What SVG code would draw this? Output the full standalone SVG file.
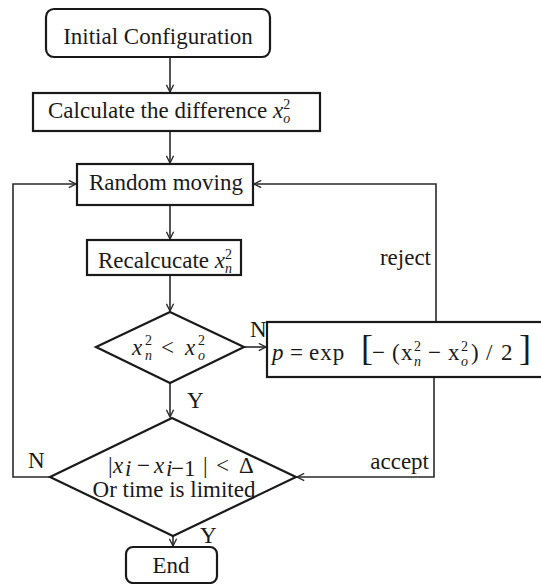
<svg xmlns="http://www.w3.org/2000/svg" width="541" height="584" viewBox="0 0 541 584">
<style>
text{font-family:"Liberation Serif","Times New Roman",serif;font-size:23px;fill:#1a1a1a}
.mi{font-style:italic}
.s{font-size:14px}
.node{fill:#fff;stroke:#1a1a1a;stroke-width:2.2}
.conn{fill:none;stroke:#2a2a2a;stroke-width:1.6}
</style>
<defs>
<marker id="arr" viewBox="0 0 10 10" refX="9" refY="5" markerWidth="9" markerHeight="9" markerUnits="userSpaceOnUse" orient="auto">
<path d="M1,1 L9,5 L1,9" fill="none" stroke="#2a2a2a" stroke-width="1.5"/>
</marker>
</defs>
<rect width="541" height="584" fill="#fff"/>
<g id="connectors">
<line class="conn" x1="170" y1="57" x2="170" y2="92" marker-end="url(#arr)"/>
<line class="conn" x1="170" y1="131" x2="170" y2="163" marker-end="url(#arr)"/>
<line class="conn" x1="170" y1="205" x2="170" y2="239" marker-end="url(#arr)"/>
<line class="conn" x1="170" y1="275" x2="170" y2="311" marker-end="url(#arr)"/>
<line class="conn" x1="244" y1="347" x2="266" y2="347" marker-end="url(#arr)"/>
<line class="conn" x1="170" y1="383" x2="170" y2="417" marker-end="url(#arr)"/>
<polyline class="conn" points="50,477 13,477 13,184 76,184" marker-end="url(#arr)"/>
<polyline class="conn" points="436,322 436,184 254,184" marker-end="url(#arr)"/>
<polyline class="conn" points="434,377 434,477 297,477" marker-end="url(#arr)"/>
<line class="conn" x1="173" y1="535" x2="173" y2="546" marker-end="url(#arr)"/>
<text x="250" y="337">N</text>
<text x="187" y="408">Y</text>
<text x="28" y="468">N</text>
<text x="200" y="543">Y</text>
<text x="431" y="265" text-anchor="end">reject</text>
<text x="429" y="469" text-anchor="end">accept</text>
</g>
<g id="initial">
<rect class="node" x="46" y="9" width="224" height="48" rx="8"/>
<text x="158" y="44" text-anchor="middle">Initial Configuration</text>
</g>
<g id="calculate">
<rect class="node" x="33" y="93" width="287" height="38"/>
<text x="48" y="118">Calculate the difference <tspan class="mi">x</tspan><tspan class="s" dy="-9">2</tspan><tspan class="s mi" dx="-7" dy="14">o</tspan></text>
</g>
<g id="random">
<rect class="node" x="77" y="164" width="176" height="41"/>
<text x="166" y="190" text-anchor="middle">Random moving</text>
</g>
<g id="recalc">
<rect class="node" x="87" y="240" width="154" height="35"/>
<text x="98" y="268">Recalcucate <tspan class="mi">x</tspan><tspan class="s" dy="-9">2</tspan><tspan class="s mi" dx="-7" dy="14">n</tspan></text>
</g>
<g id="decision1">
<polygon class="node" points="170,312 244,347 170,383 96,347"/>
<text y="355"><tspan class="mi" x="132">x</tspan><tspan x="161">&lt;</tspan><tspan class="mi" x="185">x</tspan></text>
<text class="s" y="345"><tspan x="145">2</tspan><tspan x="198">2</tspan></text>
<text class="s mi" y="360"><tspan x="145">n</tspan><tspan x="198">o</tspan></text>
</g>
<g id="prob">
<rect class="node" x="267" y="322" width="278" height="55"/>
<text y="360"><tspan class="mi" x="272">p</tspan><tspan x="290">=</tspan><tspan x="309" letter-spacing="1">exp</tspan><tspan x="361" font-size="36">[</tspan><tspan x="372">−</tspan><tspan x="392">(</tspan><tspan x="401">x</tspan><tspan x="428">−</tspan><tspan x="448">x</tspan><tspan x="471">)</tspan><tspan x="486">/</tspan><tspan x="501">2</tspan><tspan x="519" font-size="36">]</tspan></text>
<text class="s" x="414" y="351">2</text>
<text class="s mi" x="414" y="366">n</text>
<text class="s" x="461" y="351">2</text>
<text class="s mi" x="461" y="366">o</text>
</g>
<g id="decision2">
<polygon class="node" points="172,418 296,477 173,536 50,477"/>
<text y="473"><tspan x="108">|</tspan><tspan class="mi" x="113">x</tspan><tspan x="137">−</tspan><tspan class="mi" x="154">x</tspan><tspan x="203">|</tspan><tspan x="216">&lt;</tspan><tspan x="239">Δ</tspan></text>
<text class="mi" font-size="12" x="125" y="476">i</text>
<text font-size="12" y="476"><tspan class="mi" x="166">i</tspan><tspan x="171">−1</tspan></text>
<text x="174" y="497" text-anchor="middle">Or time is limited</text>
</g>
<g id="end">
<rect class="node" x="126" y="547" width="91" height="36" rx="7"/>
<text x="171" y="573" text-anchor="middle">End</text>
</g>
</svg>
